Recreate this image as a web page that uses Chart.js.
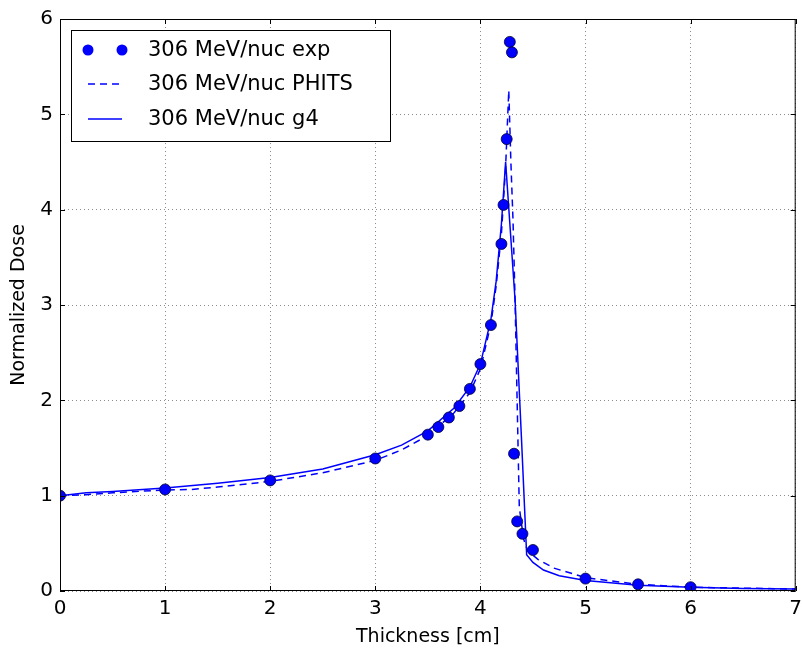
<!DOCTYPE html>
<html>
<head>
<meta charset="utf-8">
<title>Normalized Dose vs Thickness</title>
<script src="https://cdn.jsdelivr.net/npm/chart.js@4.4.1/dist/chart.umd.min.js"></script>
<style>
  html, body { margin: 0; padding: 0; background: #fff; }
  #wrap { width: 802px; height: 650px; }
</style>
</head>
<body>
<div id="wrap"><canvas id="doseChart" width="802" height="650"></canvas></div>
<script>
// measured depth-dose, 306 MeV/nuc carbon
const exp_x = [0, 1, 2, 3, 3.5, 3.6, 3.7, 3.8, 3.9, 4.0, 4.1, 4.2, 4.22, 4.25, 4.28, 4.3, 4.32, 4.35, 4.4, 4.5, 5.0, 5.5, 6.0];
const exp_y = [1.0, 1.065, 1.16, 1.39, 1.64, 1.72, 1.82, 1.94, 2.12, 2.38, 2.79, 3.64, 4.05, 4.74, 5.76, 5.65, 1.44, 0.73, 0.60, 0.43, 0.13, 0.07, 0.04];

// PHITS simulation
const phits_x = [0, 0.25, 0.5, 1, 1.25, 1.5, 2, 2.5, 3, 3.25, 3.5, 3.75, 3.9, 4.0, 4.1, 4.15, 4.2, 4.24, 4.27, 4.29, 4.31, 4.33, 4.37, 4.41, 4.45, 4.55, 4.7, 5.0, 5.5, 6.0, 6.5, 7.0];
const phits_y = [1.0, 1.01, 1.03, 1.06, 1.065, 1.09, 1.15, 1.24, 1.37, 1.48, 1.63, 1.87, 2.08, 2.33, 2.8, 3.2, 3.75, 4.45, 5.25, 4.5, 3.9, 3.05, 0.88, 0.55, 0.42, 0.33, 0.24, 0.14, 0.07, 0.04, 0.03, 0.02];

// Geant4 simulation
const g4_x = [0, 0.25, 0.5, 1, 1.5, 2, 2.5, 3, 3.25, 3.5, 3.75, 3.9, 4.0, 4.1, 4.15, 4.2, 4.24, 4.33, 4.39, 4.44, 4.5, 4.6, 4.75, 5.0, 5.5, 6.0, 6.5, 7.0];
const g4_y = [1.0, 1.03, 1.045, 1.08, 1.13, 1.19, 1.28, 1.43, 1.53, 1.68, 1.92, 2.14, 2.38, 2.85, 3.25, 3.85, 4.5, 3.05, 1.62, 0.38, 0.30, 0.22, 0.16, 0.11, 0.06, 0.04, 0.025, 0.02];

const x_ticks = [0, 1, 2, 3, 4, 5, 6, 7];
const y_ticks = [0, 1, 2, 3, 4, 5, 6];

const series_labels = ["306 MeV/nuc exp", "306 MeV/nuc PHITS", "306 MeV/nuc g4"];

function toPoints(xs, ys) {
	return xs.map((x, i) => ({ x: x, y: ys[i] }));
}

const BLUE = "#0000ff";
const FONT = "'DejaVu Sans', sans-serif";

// frame, inward ticks and boxed legend
const framePlugin = {
	id: "frame",
	afterDraw(chart) {
		const c = chart.ctx;
		const a = chart.chartArea;
		const xs = chart.scales.x;
		const ys = chart.scales.y;
		c.save();
		c.strokeStyle = "#000";
		c.lineWidth = 1;
		c.strokeRect(a.left + 0.5, a.top + 0.5, a.right - a.left - 1, a.bottom - a.top - 1);
		c.beginPath();
		x_ticks.forEach((v) => {
			const px = Math.round(xs.getPixelForValue(v)) + 0.5;
			c.moveTo(px, a.bottom); c.lineTo(px, a.bottom - 5);
			c.moveTo(px, a.top); c.lineTo(px, a.top + 5);
		});
		y_ticks.forEach((v) => {
			const py = Math.round(ys.getPixelForValue(v)) + 0.5;
			c.moveTo(a.left, py); c.lineTo(a.left + 5, py);
			c.moveTo(a.right, py); c.lineTo(a.right - 5, py);
		});
		c.stroke();

		// legend
		const bx = 71, by = 30, bw = 319, bh = 111;
		c.fillStyle = "#fff";
		c.fillRect(bx, by, bw, bh);
		c.strokeStyle = "#000";
		c.strokeRect(bx + 0.5, by + 0.5, bw, bh);
		const rows = [50, 84, 119];
		c.font = "21px " + FONT;
		c.textBaseline = "middle";
		c.textAlign = "left";
		rows.forEach((ry, i) => {
			c.strokeStyle = BLUE;
			c.fillStyle = BLUE;
			c.lineWidth = 1.5;
			if (i === 0) {
				[88, 122].forEach((mx) => {
					c.beginPath();
					c.arc(mx, ry, 5.5, 0, Math.PI * 2);
					c.fill();
				});
			} else {
				c.setLineDash(i === 1 ? [7, 5] : []);
				c.beginPath();
				c.moveTo(88, ry); c.lineTo(122, ry);
				c.stroke();
				c.setLineDash([]);
			}
			c.fillStyle = "#000";
			c.fillText(series_labels[i], 148, ry + 1);
		});
		c.restore();
	}
};

const ctx = document.getElementById("doseChart").getContext("2d");
let doseChart = new Chart(ctx, {
	type: "scatter",
	data: {
		datasets: [
			{
				label: series_labels[0],
				data: toPoints(exp_x, exp_y),
				showLine: false,
				pointRadius: 5.5,
				pointBackgroundColor: BLUE,
				pointBorderColor: "#000033",
				pointBorderWidth: 0.8,
			},
			{
				label: series_labels[1],
				data: toPoints(phits_x, phits_y),
				showLine: true,
				borderColor: BLUE,
				borderWidth: 1.5,
				borderDash: [7, 5],
				pointRadius: 0,
				tension: 0,
			},
			{
				label: series_labels[2],
				data: toPoints(g4_x, g4_y),
				showLine: true,
				borderColor: BLUE,
				borderWidth: 1.5,
				pointRadius: 0,
				tension: 0,
			},
		],
	},
	options: {
		responsive: false,
		animation: false,
		layout: { padding: { top: 17, right: 4, left: 0, bottom: 0 } },
		plugins: {
			legend: { display: false },
			tooltip: { enabled: false },
		},
		scales: {
			x: {
				type: "linear",
				min: 0,
				max: 7,
				afterFit: (s) => { s.height = 59; s.paddingRight = 0; s.paddingLeft = 0; },
				afterBuildTicks: (s) => { s.ticks = x_ticks.map((v) => ({ value: v })); },
				ticks: { color: "#000", font: { family: FONT, size: 20 }, padding: 6 },
				grid: { color: "#8c8c8c", drawTicks: false },
				border: { display: false, dash: [1, 3] },
				title: { display: true, text: "Thickness [cm]", color: "#000", font: { family: FONT, size: 19 }, padding: { top: 0, bottom: 2 } },
			},
			y: {
				type: "linear",
				min: 0,
				max: 6,
				afterFit: (s) => { s.width = 60; },
				afterBuildTicks: (s) => { s.ticks = y_ticks.map((v) => ({ value: v })); },
				ticks: { color: "#000", font: { family: FONT, size: 20 }, padding: 7 },
				grid: { color: "#8c8c8c", drawTicks: false },
				border: { display: false, dash: [1, 3] },
				title: { display: true, text: "Normalized Dose", color: "#000", font: { family: FONT, size: 19 }, padding: { top: 8, bottom: 0 } },
			},
		},
	},
	plugins: [framePlugin],
});
</script>
</body>
</html>
